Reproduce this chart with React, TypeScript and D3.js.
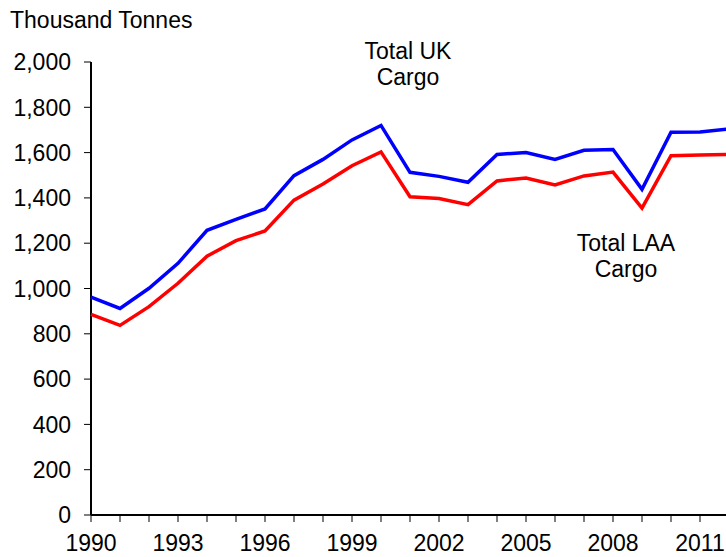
import { useRef, useEffect } from "react";
import * as d3 from "d3";

const years = d3.range(1990, 2013);
const totalUK = [962, 912, 1001, 1111, 1257, 1305, 1351, 1498, 1570, 1656, 1720, 1513, 1495, 1469, 1592, 1600, 1570, 1610, 1614, 1438, 1690, 1691, 1705];
const totalLAA = [886, 837, 920, 1023, 1143, 1211, 1254, 1390, 1461, 1542, 1603, 1405, 1397, 1370, 1475, 1488, 1457, 1497, 1514, 1355, 1586, 1589, 1592];
const yTicks = [0, 200, 400, 600, 800, 1000, 1200, 1400, 1600, 1800, 2000];
const xLabels = [1990, 1993, 1996, 1999, 2002, 2005, 2008, 2011];

const W = 726;
const H = 557;
const FONT = "'Liberation Sans', Arial, sans-serif";

export default function App() {
  const svgRef = useRef(null);

  useEffect(() => {
    const svg = d3.select(svgRef.current);
    svg.selectAll("*").remove();

    const x = d3.scaleLinear().domain([1990, 2012]).range([91, 729]);
    const y = d3.scaleLinear().domain([0, 2000]).range([515, 62]);

    // y axis
    svg.append("line")
      .attr("x1", 91).attr("x2", 91)
      .attr("y1", y(2000)).attr("y2", y(0))
      .attr("stroke", "#000").attr("stroke-width", 2);
    svg.selectAll(".ytick")
      .data(yTicks)
      .enter()
      .append("line")
      .attr("x1", 84).attr("x2", 91)
      .attr("y1", (d) => y(d)).attr("y2", (d) => y(d))
      .attr("stroke", "#000").attr("stroke-width", 1);
    svg.selectAll(".ylab")
      .data(yTicks)
      .enter()
      .append("text")
      .attr("x", 71)
      .attr("y", (d) => y(d))
      .attr("dy", "0.36em")
      .attr("text-anchor", "end")
      .attr("font-family", FONT)
      .attr("font-size", 23)
      .text((d) => d3.format(",")(d));

    // x axis
    svg.append("line")
      .attr("x1", 91).attr("x2", W)
      .attr("y1", y(0)).attr("y2", y(0))
      .attr("stroke", "#000").attr("stroke-width", 2);
    svg.selectAll(".xtick")
      .data(years)
      .enter()
      .append("line")
      .attr("x1", (d) => x(d)).attr("x2", (d) => x(d))
      .attr("y1", y(0)).attr("y2", y(0) + 7)
      .attr("stroke", "#000").attr("stroke-width", 1);
    svg.selectAll(".xlab")
      .data(xLabels)
      .enter()
      .append("text")
      .attr("x", (d) => x(d))
      .attr("y", 551)
      .attr("text-anchor", "middle")
      .attr("font-family", FONT)
      .attr("font-size", 23)
      .text((d) => d);

    const line = d3.line<number>()
      .x((d, i) => x(years[i]))
      .y((d) => y(d));

    svg.append("path")
      .datum(totalLAA)
      .attr("d", line)
      .attr("fill", "none")
      .attr("stroke", "#ff0000")
      .attr("stroke-width", 3.5);

    svg.append("path")
      .datum(totalUK)
      .attr("d", line)
      .attr("fill", "none")
      .attr("stroke", "#0000ff")
      .attr("stroke-width", 3.5);

    svg.append("text")
      .attr("x", 10).attr("y", 28)
      .attr("font-family", FONT)
      .attr("font-size", 23)
      .text("Thousand Tonnes");

    const labels = [
      { lines: ["Total UK", "Cargo"], cx: 408, top: 59 },
      { lines: ["Total LAA", "Cargo"], cx: 626, top: 251 },
    ];
    labels.forEach((l) => {
      l.lines.forEach((t, i) => {
        svg.append("text")
          .attr("x", l.cx)
          .attr("y", l.top + i * 26)
          .attr("text-anchor", "middle")
          .attr("font-family", FONT)
          .attr("font-size", 23)
          .text(t);
      });
    });
  }, []);

  return (
    <svg
      ref={svgRef}
      width={W}
      height={H}
      style={{ position: "absolute", left: 0, top: 0, background: "#fff" }}
    ></svg>
  );
}
